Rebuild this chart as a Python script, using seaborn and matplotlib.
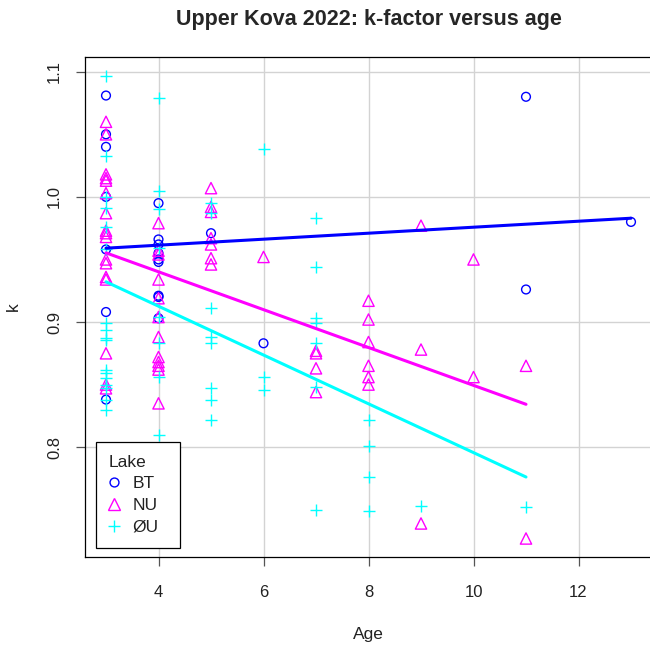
import numpy as np
import pandas as pd
import matplotlib
matplotlib.use("Agg")
import matplotlib.pyplot as plt
import seaborn as sns
from matplotlib.lines import Line2D

# ---------------- data ----------------
lakes = ["BT", "NU", "ØU"]

bt_age = [3] * 7 + [4] * 9 + [5, 6, 11, 11, 13]
bt_k = [1.081, 1.050, 1.040, 1.000, 0.958, 0.908, 0.838,
        0.995, 0.966, 0.962, 0.955, 0.950, 0.948, 0.921, 0.920, 0.903,
        0.971, 0.883, 1.080, 0.926, 0.980]

nu_age = [3] * 17 + [4] * 12 + [5] * 7 + [6] + [7] * 4 + [8] * 6 + [9] * 3 + [10] * 2 + [11] * 2
nu_k = [1.060, 1.050, 1.018, 1.015, 1.013, 1.003, 0.987, 0.973, 0.971, 0.968,
        0.950, 0.947, 0.936, 0.934, 0.875, 0.850, 0.847,
        0.979, 0.957, 0.954, 0.934, 0.919, 0.904, 0.888, 0.872, 0.868, 0.865, 0.862, 0.835,
        1.007, 0.992, 0.988, 0.967, 0.962, 0.951, 0.946,
        0.952,
        0.877, 0.875, 0.863, 0.844,
        0.917, 0.902, 0.884, 0.865, 0.856, 0.850,
        0.977, 0.878, 0.739,
        0.950, 0.856,
        0.865, 0.727]

ou_age = [3] * 17 + [4] * 8 + [5] * 8 + [6] * 3 + [7] * 7 + [8] * 4 + [9] + [11]
ou_k = [1.097, 1.033, 1.000, 0.991, 0.976, 0.958, 0.899, 0.894, 0.887, 0.886,
        0.862, 0.859, 0.855, 0.850, 0.847, 0.838, 0.830,
        1.079, 1.005, 0.990, 0.959, 0.904, 0.883, 0.856, 0.810,
        0.995, 0.987, 0.911, 0.888, 0.883, 0.847, 0.838, 0.822,
        1.038, 0.856, 0.846,
        0.983, 0.944, 0.903, 0.899, 0.883, 0.848, 0.750,
        0.822, 0.801, 0.776, 0.749,
        0.753,
        0.752]

x_ticks = [4, 6, 8, 10, 12]
y_ticks = [0.8, 0.9, 1.0, 1.1]
y_ticklabels = ["0.8", "0.9", "1.0", "1.1"]

df = pd.concat([
    pd.DataFrame({"Age": bt_age, "k": bt_k, "Lake": "BT"}),
    pd.DataFrame({"Age": nu_age, "k": nu_k, "Lake": "NU"}),
    pd.DataFrame({"Age": ou_age, "k": ou_k, "Lake": "ØU"}),
], ignore_index=True)

# ---------------- style ----------------
colors = {"BT": "#0000FF", "NU": "#FF00FF", "ØU": "#00FFFF"}
markers = {"BT": "o", "NU": "^", "ØU": "+"}
sizes = {"BT": 40, "NU": 66, "ØU": 70}

sns.set_style("white")
plt.rcParams["font.family"] = ["Liberation Sans", "DejaVu Sans"]

W, H = 650, 646
fig = plt.figure(figsize=(W / 100, H / 100), dpi=100)
L, R, T, B = 85, 652, 57, 557
ax = fig.add_axes([L / W, (H - B) / H, (R - L) / W, (B - T) / H])

for lake in lakes:
    sub = df[df["Lake"] == lake]
    c = colors[lake]
    kw = dict(data=sub, x="Age", y="k", marker=markers[lake], s=sizes[lake],
              color=c, linewidth=1.0, ax=ax, legend=False, zorder=3)
    if markers[lake] != "+":
        kw["facecolor"] = "none"
        kw["edgecolor"] = c
    sns.scatterplot(**kw)

for lake in lakes:
    sub = df[df["Lake"] == lake]
    sns.regplot(data=sub, x="Age", y="k", scatter=False, ci=None, truncate=True,
                color=colors[lake], line_kws=dict(lw=2.2, zorder=4), ax=ax)

# R-like 4% axis expansion
xmin, xmax = df["Age"].min(), df["Age"].max()
ymin, ymax = df["k"].min(), df["k"].max()
ax.set_xlim(xmin - 0.04 * (xmax - xmin), xmax + 0.04 * (xmax - xmin))
ax.set_ylim(ymin - 0.04 * (ymax - ymin), ymax + 0.04 * (ymax - ymin))

ax.set_xticks(x_ticks)
ax.set_xticklabels([str(v) for v in x_ticks])
ax.set_yticks(y_ticks)
ax.set_yticklabels(y_ticklabels, rotation=90, va="center")

ax.grid(True, color="#D3D3D3", lw=1.0)
ax.set_axisbelow(True)
for sp in ax.spines.values():
    sp.set_visible(True)
    sp.set_color("black")
    sp.set_linewidth(0.9)

ax.tick_params(axis="both", which="major", direction="out", length=6.5, width=0.9,
               color="#555555", labelsize=12, labelcolor="#222222", bottom=True, left=True)
ax.tick_params(axis="x", pad=14)
ax.tick_params(axis="y", pad=10)

ax.set_xlabel("Age", fontsize=12.5, color="#222222")
ax.set_ylabel("k", fontsize=12.5, color="#222222")
ax.xaxis.set_label_coords(0.5, -(627 - B) / (B - T))
ax.yaxis.set_label_coords(-(L - 21) / (R - L), 0.5)

ax.set_title("Upper Kova 2022: k-factor versus age", fontsize=15.5,
             fontweight="bold", pad=23)

handles = []
for lake in lakes:
    c = colors[lake]
    ms = {"BT": 6.4, "NU": 8.1, "ØU": 8.4}[lake]
    handles.append(Line2D([], [], ls="", marker=markers[lake], ms=ms,
                          mfc="none", mec=c, color=c, mew=1.0))
leg = ax.legend(handles, lakes, title="Lake", loc="lower left",
                bbox_to_anchor=((96 - L) / (R - L), (B - 548) / (B - T),
                                (180 - 96) / (R - L), 0.2),
                mode="expand",
                borderaxespad=0, fontsize=12.5, title_fontsize=12.5,
                frameon=True, fancybox=False, framealpha=1, edgecolor="black",
                handlelength=0.6, handletextpad=0.75, labelspacing=0.38,
                borderpad=0.75, alignment="left")
leg.get_frame().set_linewidth(0.9)
for t in leg.get_texts():
    t.set_color("#222222")
leg.get_title().set_color("#222222")

fig.savefig("out.png", dpi=100, facecolor="white")
